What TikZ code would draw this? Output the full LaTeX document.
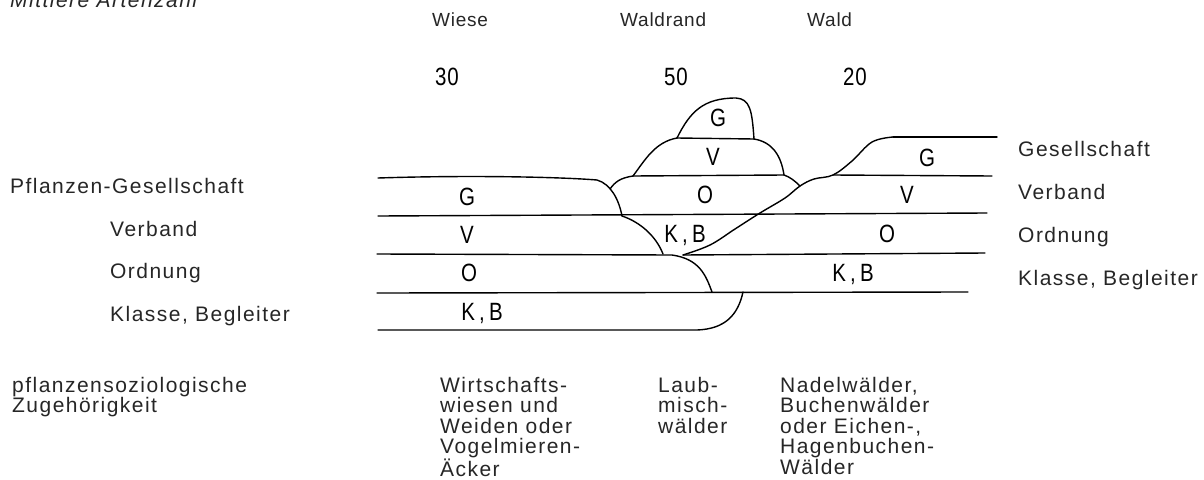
\documentclass[tikz,border=0pt]{standalone}
\usepackage{fontspec}
\setmainfont{Liberation Sans}
\newfontfamily\labfont[LetterSpace=7]{Liberation Sans}
\newfontfamily\topfont[LetterSpace=4]{Liberation Sans}
\newfontfamily\botfont[LetterSpace=7]{Liberation Sans}
\newfontfamily\stfont[FakeStretch=0.82,LetterSpace=4]{Liberation Sans}
\tikzset{
  lab/.style={font=\labfont\fontsize{21}{22}\selectfont, anchor=base west, inner sep=0pt, text=black!85},
  toplab/.style={font=\topfont\fontsize{19}{20}\selectfont, anchor=base west, inner sep=0pt, text=black!85},
  bot/.style={font=\botfont\fontsize{21}{20.4}\selectfont, anchor=north west, inner sep=0pt, align=left, text=black!85},
  stl/.style={font=\stfont\fontsize{25}{26}\selectfont, anchor=base, inner sep=0pt},
  ln/.style={line width=1.4pt, line join=round, line cap=round}
}
\begin{document}
\begin{tikzpicture}[x=1pt,y=-1pt]
\useasboundingbox (0,0) rectangle (1204,479);
% header
\node[lab, font=\labfont\itshape\fontsize{21}{22}\selectfont] (title) at (10,7) {Mittlere Artenzahl};
\node[toplab] (wiese) at (432,27) {Wiese};
\node[toplab] (waldrand) at (620,27) {Waldrand};
\node[toplab] (wald) at (807,27) {Wald};
\node[stl] (n30) at (447,85) {30};
\node[stl] (n50) at (676,85) {50};
\node[stl] (n20) at (855,85) {20};
% left labels
\node[lab] (pg) at (10,193) {Pflanzen-Gesellschaft};
\node[lab] (lv) at (110,236) {Verband};
\node[lab] (lo) at (110,278) {Ordnung};
\node[lab] (lk) at (110,321) {Klasse, Begleiter};
% right labels
\node[lab] (rg) at (1018,156) {Gesellschaft};
\node[lab] (rv) at (1018,199) {Verband};
\node[lab] (ro) at (1018,242) {Ordnung};
\node[lab] (rk) at (1018,285) {Klasse, Begleiter};
% bottom
\node[bot] (pz) at (12,377) {pflanzensoziologische\\Zugehörigkeit};
\node[bot] (b1) at (440,377) {Wirtschafts-\\wiesen und\\Weiden oder\\Vogelmieren-\\Äcker};
\node[bot] (b2) at (658,377) {Laub-\\misch-\\wälder};
\node[bot] (b3) at (780,377) {Nadelwälder,\\Buchenwälder\\oder Eichen-,\\Hagenbuchen-\\Wälder};
% block letters
\node[stl] (wG) at (467,205) {G};
\node[stl] (wV) at (467,243) {V};
\node[stl] (wO) at (469,281) {O};
\node[stl] (wK) at (482,320) {K\,,\,B};
\node[stl] (rG) at (718,126) {G};
\node[stl] (rV) at (713,165) {V};
\node[stl] (rO) at (705,203) {O};
\node[stl] (rK) at (685,242) {K\,,\,B};
\node[stl] (dG) at (927,166) {G};
\node[stl] (dV) at (907,203) {V};
\node[stl] (dO) at (887,242) {O};
\node[stl] (dK) at (853,281) {K\,,\,B};
% Wiese lines
\draw[ln] (378,178) .. controls (470,175) and (560,177) .. (597,180) .. controls (611,184) and (619,200) .. (622,216);
\draw[ln] (610,189) .. controls (615,182) and (620,178) .. (633,176);
\draw[ln] (378,216) -- (987,213);
\draw[ln] (622,216) .. controls (640,222) and (656,236) .. (663,254);
\draw[ln] (377,254) -- (672,255) .. controls (700,259) and (706,276) .. (712,292);
\draw[ln] (377,293) -- (968,292);
\draw[ln] (743,292) .. controls (738,315) and (725,329) .. (697,330) -- (378,330);
% Waldrand
\draw[ln] (633,176) .. controls (645,160) and (655,142) .. (677,138);
\draw[ln] (677,138) -- (754,139);
\draw[ln] (754,139) .. controls (772,142) and (781,155) .. (784,175);
\draw[ln] (677,138) .. controls (690,112) and (703,98) .. (736,98) .. controls (750,99) and (752,110) .. (754,139);
\draw[ln] (633,176) -- (784,175) .. controls (790,177) and (795,181) .. (800,186);
% Wald
\draw[ln] plot[smooth, tension=0.6] coordinates {(893,137) (872,142) (852,161) (833,175) (814,179) (800,186) (785,198) (760,213) (735,229) (710,245) (683,255)};
\draw[ln] (893,137) -- (997,137);
\draw[ln] (833,175) -- (992,176);
\draw[ln] (683,255) -- (985,253);
\end{tikzpicture}
\end{document}
